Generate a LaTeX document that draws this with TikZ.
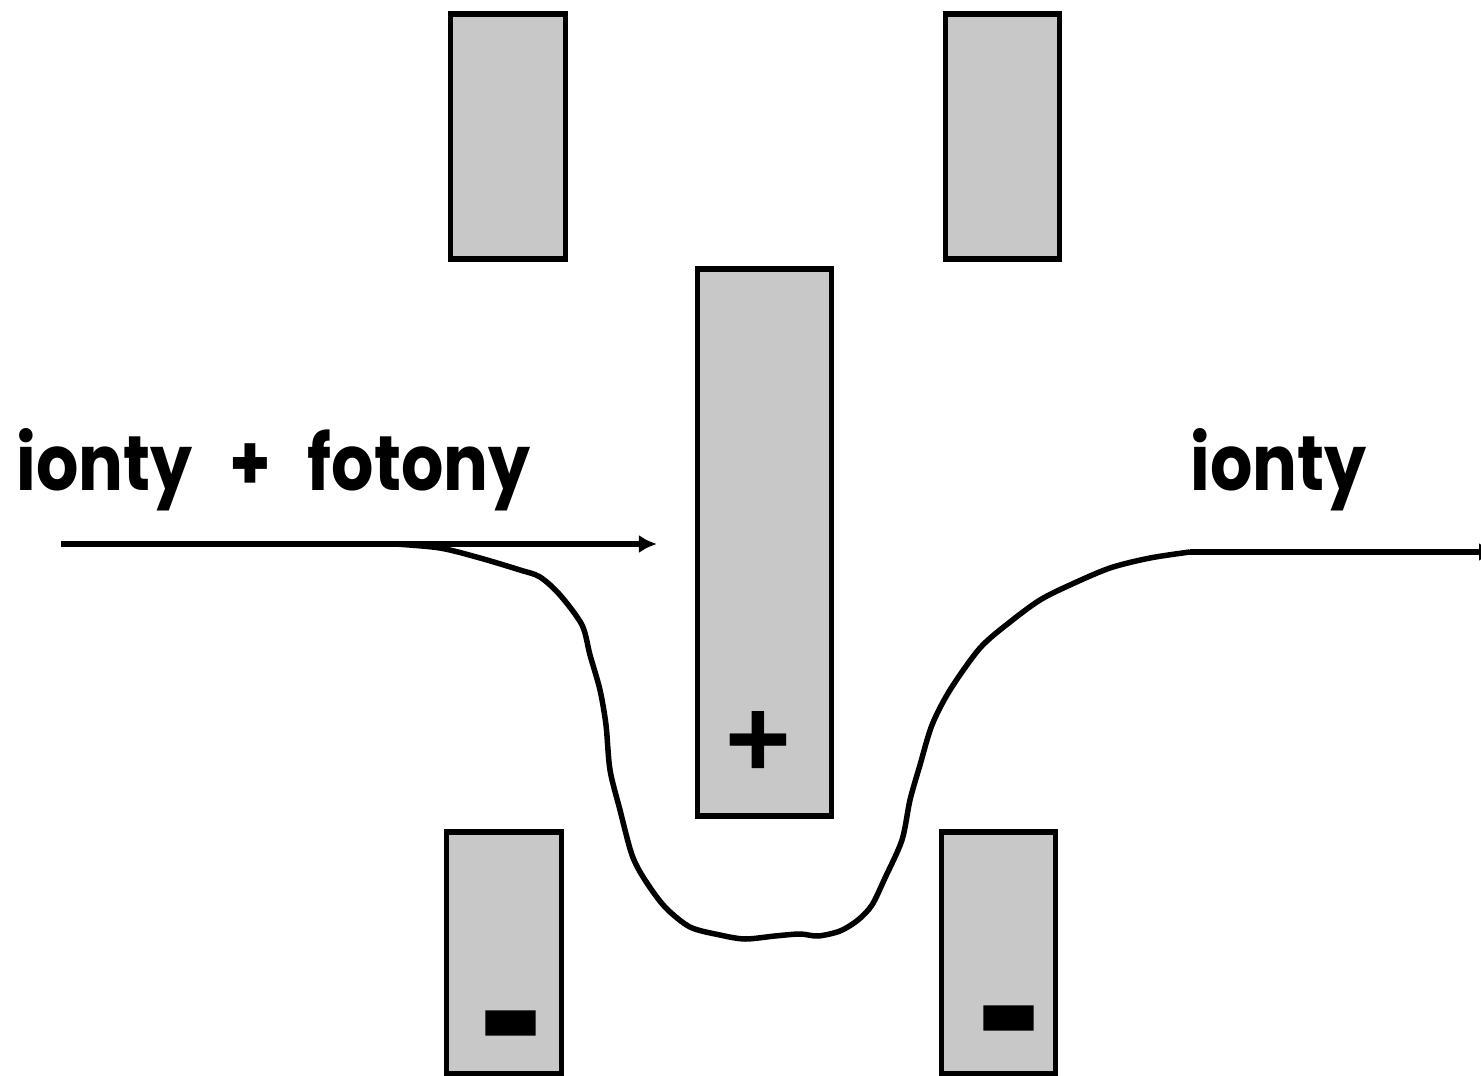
\documentclass[tikz,border=0pt]{standalone}
\usepackage{fontspec}
\setmainfont{Poppins}[FakeStretch=0.86, WordSpace=2.6]
\newfontfamily\signfont{Liberation Sans}
\newfontfamily\dashfont{Liberation Sans}[FakeBold=30]
\usetikzlibrary{arrows.meta}
\definecolor{plategray}{HTML}{C8C8C8}
\tikzset{
	plate/.style={draw=black, fill=plategray, line width=0.055cm, inner sep=0pt, outer sep=0pt},
	label/.style={font=\fontsize{22pt}{26pt}\selectfont\bfseries, anchor=base west, inner sep=0pt},
	beam/.style={line width=0.05cm, -{Latex[length=0.18cm, width=0.18cm]}},
	minus/.style={font=\dashfont\fontsize{18pt}{18pt}\selectfont\bfseries, inner sep=0pt},
}

\begin{document}
\begin{tikzpicture}[x=0.01cm, y=-0.01cm]
	\useasboundingbox (0,0) rectangle (1481,1076);
	\foreach \name/\xc/\yc/\w/\h in {plateA/508/136.5/115/245, plateB/1002.5/136.5/114/245, plateC/764.5/542.5/134/547, plateD/504/953/115/242, plateE/998.5/953/114/242} {
			\node[plate, minimum width=\w*0.01cm, minimum height=\h*0.01cm] (\name) at (\xc,\yc) {};
		}
	\node[font=\signfont\fontsize{32pt}{32pt}\selectfont\bfseries, inner sep=0pt] (plus) at (758,745) {+};
	\node[minus] (minusA) at (510.5,1030) {–};
	\node[minus] (minusB) at (1008.5,1025) {–};

	\node[label] (inLabel) at (16,490) {ionty + fotony};
	\node[label] (outLabel) at (1190,490) {ionty};

	\coordinate (inStart) at (61,544);
	\coordinate (inEnd) at (657,544);
	\coordinate (bendStart) at (395,544);
	\coordinate (outStart) at (1190,552);
	\coordinate (outEnd) at (1497,552);
	\draw[beam] (inStart) -- (inEnd);
	\draw[beam] (outStart) -- (outEnd);
	% deflected path of the ions
	\draw[line width=0.055cm, line join=round] plot[smooth, tension=0.5] coordinates {(bendStart) (440,548) (480,558) (520,570) (540,577) (560,595) (582,625) (590,655) (600,690) (606,725) (610,770) (620,810) (632,855) (645,880) (665,907) (690,927) (720,935) (745,939) (775,936) (800,934) (818,936) (840,931) (858,920) (872,905) (885,878) (902,840) (910,800) (920,765) (932,725) (950,690) (980,648) (1010,622) (1040,600) (1070,585) (1110,568) (1150,558) (outStart)};
\end{tikzpicture}
\end{document}
